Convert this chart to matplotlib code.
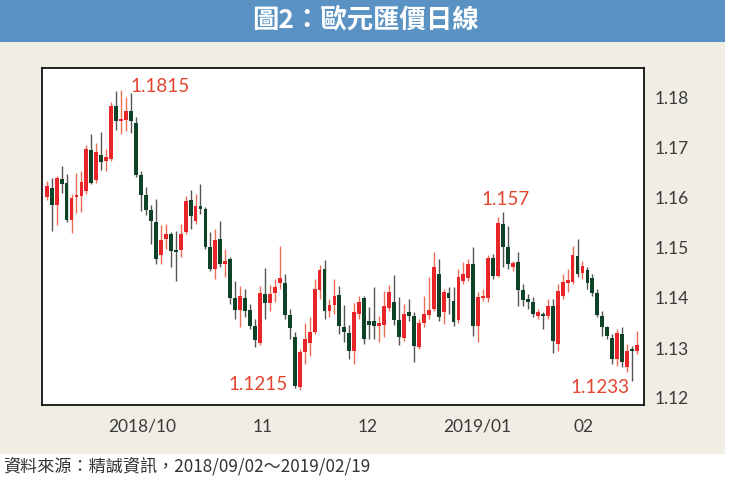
import matplotlib
matplotlib.use("Agg")
import matplotlib.pyplot as plt
from matplotlib.patches import Rectangle
import numpy as np

# ---- data (EUR/USD daily) ----
opens = [1.1600, 1.1618, 1.1584, 1.1636, 1.1628, 1.1554, 1.1600, 1.1602, 1.1612, 1.1694,
         1.1634, 1.1684, 1.1672, 1.1676, 1.1782, 1.1752, 1.1754, 1.1772, 1.1748, 1.1644,
         1.1604, 1.1574, 1.1550, 1.1484, 1.1516, 1.1526, 1.1494, 1.1494, 1.1530, 1.1594,
         1.1552, 1.1582, 1.1576, 1.1500, 1.1456, 1.1516, 1.1466, 1.1476, 1.1398, 1.1374,
         1.1398, 1.1374, 1.1342, 1.1308, 1.1406, 1.1388, 1.1408, 1.1428, 1.1428, 1.1364,
         1.1320, 1.1220, 1.1290, 1.1308, 1.1330, 1.1414, 1.1456, 1.1372, 1.1384, 1.1404,
         1.1340, 1.1328, 1.1292, 1.1366, 1.1398, 1.1352, 1.1352, 1.1342, 1.1344, 1.1378,
         1.1390, 1.1354, 1.1318, 1.1370, 1.1362, 1.1300, 1.1348, 1.1364, 1.1376, 1.1446,
         1.1370, 1.1408, 1.1392, 1.1354, 1.1432, 1.1438, 1.1466, 1.1342, 1.1398, 1.1398,
         1.1478, 1.1442, 1.1546, 1.1500, 1.1460, 1.1470, 1.1414, 1.1396, 1.1390, 1.1362,
         1.1366, 1.1362, 1.1382, 1.1306, 1.1402, 1.1428, 1.1430, 1.1482, 1.1448, 1.1454,
         1.1438, 1.1408, 1.1362, 1.1340, 1.1318, 1.1276, 1.1326, 1.1260, 1.1296, 1.1292]
highs = [1.1632, 1.1638, 1.1642, 1.1662, 1.1646, 1.1606, 1.1648, 1.1652, 1.1704, 1.1726,
         1.1708, 1.1730, 1.1696, 1.1790, 1.1812, 1.1815, 1.1800, 1.1808, 1.1760, 1.1652,
         1.1620, 1.1584, 1.1596, 1.1544, 1.1546, 1.1530, 1.1532, 1.1546, 1.1602, 1.1614,
         1.1606, 1.1626, 1.1580, 1.1530, 1.1536, 1.1552, 1.1496, 1.1480, 1.1432, 1.1422,
         1.1416, 1.1386, 1.1356, 1.1422, 1.1458, 1.1424, 1.1436, 1.1502, 1.1446, 1.1376,
         1.1330, 1.1296, 1.1348, 1.1360, 1.1436, 1.1464, 1.1474, 1.1396, 1.1436, 1.1422,
         1.1384, 1.1344, 1.1388, 1.1402, 1.1402, 1.1380, 1.1420, 1.1362, 1.1412, 1.1424,
         1.1444, 1.1400, 1.1386, 1.1396, 1.1370, 1.1356, 1.1402, 1.1440, 1.1490, 1.1476,
         1.1416, 1.1420, 1.1420, 1.1456, 1.1470, 1.1476, 1.1500, 1.1410, 1.1416, 1.1484,
         1.1486, 1.1560, 1.1570, 1.1542, 1.1472, 1.1490, 1.1426, 1.1406, 1.1400, 1.1376,
         1.1370, 1.1396, 1.1396, 1.1426, 1.1446, 1.1456, 1.1502, 1.1516, 1.1472, 1.1460,
         1.1446, 1.1416, 1.1372, 1.1342, 1.1326, 1.1336, 1.1340, 1.1306, 1.1302, 1.1332]
lows = [1.1594, 1.1532, 1.1544, 1.1608, 1.1550, 1.1528, 1.1568, 1.1570, 1.1606, 1.1626,
        1.1628, 1.1654, 1.1652, 1.1672, 1.1734, 1.1726, 1.1732, 1.1728, 1.1640, 1.1572,
        1.1564, 1.1506, 1.1466, 1.1466, 1.1496, 1.1460, 1.1432, 1.1480, 1.1526, 1.1536,
        1.1546, 1.1566, 1.1496, 1.1452, 1.1436, 1.1460, 1.1440, 1.1386, 1.1356, 1.1340,
        1.1360, 1.1336, 1.1300, 1.1304, 1.1356, 1.1372, 1.1390, 1.1416, 1.1356, 1.1316,
        1.1218, 1.1215, 1.1266, 1.1282, 1.1326, 1.1396, 1.1356, 1.1360, 1.1366, 1.1326,
        1.1310, 1.1276, 1.1266, 1.1356, 1.1306, 1.1316, 1.1316, 1.1310, 1.1320, 1.1372,
        1.1344, 1.1304, 1.1312, 1.1352, 1.1270, 1.1296, 1.1340, 1.1356, 1.1372, 1.1352,
        1.1346, 1.1366, 1.1342, 1.1348, 1.1426, 1.1432, 1.1322, 1.1310, 1.1392, 1.1390,
        1.1436, 1.1440, 1.1460, 1.1456, 1.1452, 1.1382, 1.1382, 1.1376, 1.1360, 1.1356,
        1.1336, 1.1356, 1.1288, 1.1292, 1.1396, 1.1410, 1.1426, 1.1440, 1.1436, 1.1416,
        1.1402, 1.1360, 1.1322, 1.1316, 1.1266, 1.1262, 1.1260, 1.1250, 1.1233, 1.1286]
closes = [1.1622, 1.1584, 1.1638, 1.1626, 1.1554, 1.1598, 1.1604, 1.1630, 1.1696, 1.1628,
          1.1690, 1.1670, 1.1680, 1.1782, 1.1752, 1.1754, 1.1772, 1.1752, 1.1644, 1.1604,
          1.1574, 1.1552, 1.1476, 1.1514, 1.1526, 1.1492, 1.1490, 1.1526, 1.1592, 1.1562,
          1.1582, 1.1576, 1.1500, 1.1456, 1.1514, 1.1466, 1.1472, 1.1398, 1.1374, 1.1402,
          1.1372, 1.1342, 1.1314, 1.1408, 1.1388, 1.1406, 1.1420, 1.1438, 1.1364, 1.1338,
          1.1222, 1.1290, 1.1316, 1.1330, 1.1416, 1.1454, 1.1372, 1.1384, 1.1402, 1.1342,
          1.1330, 1.1292, 1.1370, 1.1390, 1.1316, 1.1344, 1.1342, 1.1348, 1.1382, 1.1410,
          1.1354, 1.1320, 1.1366, 1.1362, 1.1302, 1.1348, 1.1366, 1.1374, 1.1460, 1.1360,
          1.1410, 1.1398, 1.1350, 1.1440, 1.1446, 1.1466, 1.1342, 1.1400, 1.1400, 1.1478,
          1.1442, 1.1548, 1.1500, 1.1466, 1.1468, 1.1414, 1.1394, 1.1390, 1.1366, 1.1370,
          1.1362, 1.1382, 1.1312, 1.1412, 1.1430, 1.1434, 1.1484, 1.1446, 1.1462, 1.1428,
          1.1408, 1.1364, 1.1340, 1.1322, 1.1276, 1.1328, 1.1270, 1.1292, 1.1292, 1.1304]

month_labels = ["2018/10", "11", "12", "2019/01", "02"]
month_start_idx = [19.3, 43.5, 64.7, 86.7, 108.3]
yticks = [1.12, 1.13, 1.14, 1.15, 1.16, 1.17, 1.18]
marks = ["1.1815", "1.1215", "1.157", "1.1233"]

title = "圖2：歐元匯價日線"
source = "資料來源：精誠資訊，2018/09/02～2019/02/19"

# ---- style ----
RED = "#e8262a"
GREEN = "#0e4327"
RED_WICK = "#ee6e55"
GREEN_WICK = "#555555"
BEIGE = "#f0ede5"
BLUE = "#5a93c3"
LBL = "#e3452e"
TXT = "#3a3a3a"

W, H = 732, 481
fig = plt.figure(figsize=(W / 100, H / 100), dpi=100)
fig.patch.set_facecolor("white")

# background panels
fig.add_artist(Rectangle((0, 1 - 455 / H), 725 / W, (455 - 43) / H,
                         transform=fig.transFigure, facecolor=BEIGE, edgecolor="none", zorder=0))
fig.add_artist(Rectangle((0, 1 - 43 / H), 725 / W, 43 / H,
                         transform=fig.transFigure, facecolor=BLUE, edgecolor="none", zorder=0))
fig.text(365 / W, 1 - 21 / H, title, ha="center", va="center", color="white",
         fontsize=19, fontweight="heavy", family=["Noto Sans CJK TC", "DejaVu Sans"])
fig.text(3 / W, 1 - 466 / H, source, ha="left", va="center", color="#333333",
         fontsize=12.3, fontweight="light", family=["Noto Sans CJK TC", "DejaVu Sans"])

ax = fig.add_axes([42 / W, 1 - 406 / H, 602 / W, 337 / H])
ax.set_facecolor("white")

o = np.array(opens); h = np.array(highs); l = np.array(lows); c = np.array(closes)
idx = np.arange(len(o))
up = c >= o
body_col = np.where(up, RED, GREEN)
wick_col = np.where(up, RED_WICK, GREEN_WICK)

ax.vlines(idx, l, h, colors=wick_col, linewidth=1.0, zorder=2)
bottoms = np.minimum(o, c)
heights = np.maximum(np.abs(c - o), 0.00035)
ax.bar(idx, heights, bottom=bottoms, width=0.78, color=body_col, edgecolor="none", zorder=3)

ax.set_xlim(-0.95, 120.4)
ax.set_ylim(1.1184, 1.1858)

ax.yaxis.tick_right()
ax.set_yticks(yticks)
ax.set_yticklabels([f"{v:.2f}" for v in yticks])
ax.set_xticks(month_start_idx)
ax.set_xticklabels(month_labels)
ax.tick_params(axis="both", length=0, labelsize=12.5, labelcolor=TXT)
ax.tick_params(axis="y", pad=8)
ax.tick_params(axis="x", pad=9)
for lab in ax.get_xticklabels() + ax.get_yticklabels():
    lab.set_family("Lato")
for s in ax.spines.values():
    s.set_color("black")
    s.set_linewidth(1.2)

# annotations of extremes
i_hi1 = int(np.argmax(h[:40]))
i_lo1 = int(np.argmin(l[:80]))
i_hi2 = 80 + int(np.argmax(h[80:]))
i_lo2 = 100 + int(np.argmin(l[100:]))
afont = dict(color=LBL, fontsize=13.5, family="Lato", textcoords="offset pixels")
ax.annotate(marks[0], (i_hi1, h[i_hi1]), xytext=(9, 4), ha="left", va="center", **afont)
ax.annotate(marks[1], (i_lo1, l[i_lo1]), xytext=(-12, 6), ha="right", va="center", **afont)
ax.annotate(marks[2], (i_hi2, h[i_hi2]), xytext=(2, 13), ha="center", va="center", **afont)
ax.annotate(marks[3], (i_lo2, l[i_lo2]), xytext=(-3, -6), ha="right", va="center", **afont)

fig.savefig("out.png", dpi=100, facecolor=fig.get_facecolor())
